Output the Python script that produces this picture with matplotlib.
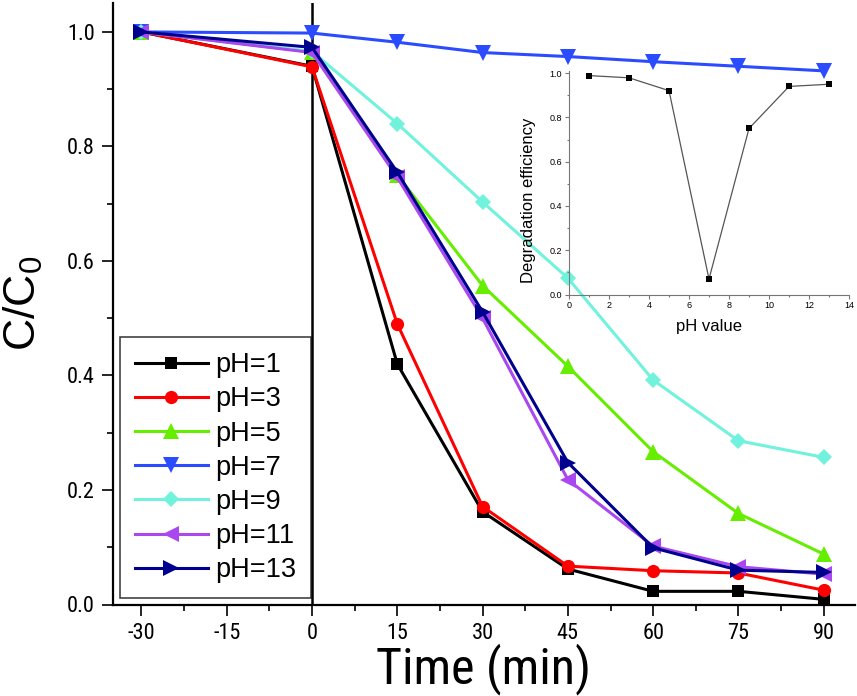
import numpy as np
import matplotlib
matplotlib.use("Agg")
import matplotlib.pyplot as plt
from matplotlib.ticker import MultipleLocator, FormatStrFormatter

# data
times = [-30, 0, 15, 30, 45, 60, 75, 90]
ph_labels = ["pH=1", "pH=3", "pH=5", "pH=7", "pH=9", "pH=11", "pH=13"]
ph1 = [1.0, 0.940, 0.420, 0.162, 0.062, 0.023, 0.023, 0.009]
ph3 = [1.0, 0.939, 0.490, 0.171, 0.067, 0.059, 0.055, 0.025]
ph5 = [1.0, 0.965, 0.750, 0.557, 0.416, 0.267, 0.159, 0.088]
ph7 = [1.0, 0.998, 0.982, 0.964, 0.957, 0.948, 0.940, 0.932]
ph9 = [1.0, 0.966, 0.840, 0.703, 0.570, 0.392, 0.286, 0.257]
ph11 = [1.0, 0.964, 0.746, 0.500, 0.218, 0.102, 0.066, 0.053]
ph13 = [1.0, 0.973, 0.755, 0.511, 0.248, 0.099, 0.060, 0.056]

# inset: degradation efficiency vs pH
inset_ph = [1, 3, 5, 7, 9, 11, 13]
inset_eff = [0.989, 0.979, 0.921, 0.070, 0.750, 0.940, 0.950]

narrow = ["Roboto Condensed", "Liberation Sans", "DejaVu Sans"]
plt.rcParams['font.family'] = ["Liberation Sans", "DejaVu Sans"]
plt.rcParams['mathtext.fontset'] = 'custom'
plt.rcParams['mathtext.rm'] = 'Liberation Sans'

series = [ph1, ph3, ph5, ph7, ph9, ph11, ph13]
colors = ['#000000', '#FF0000', '#66EE00', '#2B4BFF', '#70F2DC', '#AA48F0', '#00008F']
markers = ['s', 'o', '^', 'v', 'D', '<', '>']
msizes = [8, 9.5, 11, 11, 8, 11, 11]

fig = plt.figure(figsize=(8.57, 6.96), dpi=100)
ax = fig.add_axes([113/857, 1-604.5/696, 742/857, 601.2/696])

for vals, lab, c, m, ms in zip(series, ph_labels, colors, markers, msizes):
    ax.plot(times, vals, color=c, marker=m, markersize=ms, markeredgewidth=0,
            linewidth=2.2, label=lab, clip_on=False, zorder=3)

ax.axvline(0, color='black', linewidth=1.8, zorder=2)

ax.set_xlim(-35, 95.5)
ax.set_ylim(0, 1.05)
xt = np.arange(-30, 91, 15)
ax.set_xticks(xt)
ax.set_xticklabels([str(t) for t in xt], family=narrow, fontsize=16)
yt = np.arange(0, 1.01, 0.2)
ax.set_yticks(yt)
ax.set_yticklabels(["%.1f" % v for v in yt], family=narrow, fontsize=16)
ax.xaxis.set_minor_locator(MultipleLocator(7.5))
ax.yaxis.set_minor_locator(MultipleLocator(0.1))
ax.tick_params(which='major', direction='out', length=8, width=1.2, pad=5)
ax.tick_params(which='minor', direction='out', length=4.5, width=1.2)
for s in ['top', 'right']:
    ax.spines[s].set_visible(False)
for s in ['left', 'bottom']:
    ax.spines[s].set_linewidth(1.6)

ax.set_xlabel("Time (min)", family=narrow, fontsize=36, labelpad=0)
ax.set_ylabel("C/C$_0$", fontsize=32, labelpad=16)

leg = ax.legend(loc='lower left', bbox_to_anchor=(0.0094, 0.0108), borderaxespad=0,
                fontsize=19.5, frameon=True, fancybox=False, edgecolor='black',
                handlelength=2.7, handletextpad=0.25, labelspacing=0.3, borderpad=0.55)
leg.get_frame().set_linewidth(1.1)

# inset
ins = fig.add_axes([569/857, 1-294.5/696, 280/857, 224/696])
ins.patch.set_alpha(0)
ins.plot(inset_ph, inset_eff, color='#555555', linewidth=0.9, marker='s',
         markersize=4, markerfacecolor='black', markeredgewidth=0, clip_on=False)
ins.set_xlim(0, 14)
ins.set_ylim(0, 1.012)
ins.xaxis.set_major_locator(MultipleLocator(2))
ins.xaxis.set_minor_locator(MultipleLocator(1))
ins.yaxis.set_major_locator(MultipleLocator(0.2))
ins.yaxis.set_minor_locator(MultipleLocator(0.1))
ins.yaxis.set_major_formatter(FormatStrFormatter('%.1f'))
for s in ['top', 'right']:
    ins.spines[s].set_visible(False)
for s in ['left', 'bottom']:
    ins.spines[s].set_color('#777777')
    ins.spines[s].set_linewidth(0.8)
ins.tick_params(which='major', direction='out', length=3, width=0.8, color='#777777',
                labelsize=6.5, pad=2)
ins.tick_params(which='minor', direction='out', length=1.5, width=0.8, color='#777777')
ins.set_xlabel("pH value", fontsize=12, labelpad=6)
ins.set_ylabel("Degradation efficiency", fontsize=12)
ins.yaxis.set_label_coords(-0.118, 0.42)

fig.savefig("out.png", dpi=100)
